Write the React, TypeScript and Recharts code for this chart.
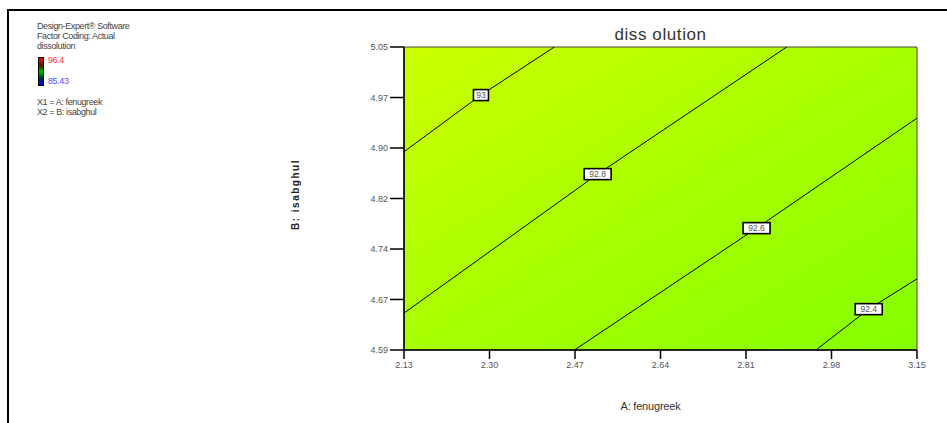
import React from 'react';
import {
  ComposedChart, Line, Scatter, XAxis, YAxis, ReferenceArea
} from 'recharts';

// axis ticks (A: fenugreek, B: isabghul)
const xTicks = [2.13, 2.30, 2.47, 2.64, 2.81, 2.98, 3.15];
const yTicks = [4.59, 4.6667, 4.7433, 4.82, 4.8967, 4.9733, 5.05];

// contour levels of dissolution, with the point where each level is labelled
const contourLevels = ['93', '92.8', '92.6', '92.4'];
const contour93 = [{ x: 2.13, y: 4.891 }, { x: 2.283, y: 4.977 }, { x: 2.429, y: 5.05 }];
const contour928 = [{ x: 2.13, y: 4.646 }, { x: 2.515, y: 4.857 }, { x: 2.891, y: 5.05 }];
const contour926 = [{ x: 2.469, y: 4.59 }, { x: 2.831, y: 4.775 }, { x: 3.15, y: 4.942 }];
const contour924 = [{ x: 2.949, y: 4.59 }, { x: 3.054, y: 4.652 }, { x: 3.15, y: 4.698 }];
const contours = [contour93, contour928, contour926, contour924];

// legend text
const legendLines = ['Design-Expert® Software', 'Factor Coding: Actual', 'dissolution'];
const rangeHigh = '96.4';
const rangeLow = '85.43';
const factorLines = ['X1 = A: fenugreek', 'X2 = B: isabghul'];

const FONT = '"Liberation Sans", Arial, sans-serif';

const labelPoints = contours.map((pts, i) => ({ ...pts[1], level: contourLevels[i] }));

function LevelLabel(props: any) {
  const { cx, cy, payload } = props;
  const w = payload.level.length * 6 + 3;
  const h = 11;
  return (
    <g>
      <rect x={cx - w / 2} y={cy - h / 2} width={w} height={h} fill="#fff" stroke="#000" strokeWidth={1.6} />
      <text x={cx} y={cy + 3} textAnchor="middle" fontSize={8.5} fontFamily={FONT} fill="#555">
        {payload.level}
      </text>
    </g>
  );
}

export default function App() {
  return (
    <div style={{ position: 'absolute', left: 0, top: 0, width: 947, height: 423, background: '#fff', fontFamily: FONT }}>
      {/* frame */}
      <div style={{ position: 'absolute', left: 7, top: 9, width: 940, height: 414, borderLeft: '2px solid #000', borderTop: '2px solid #000' }} />

      {/* legend block */}
      <div style={{ position: 'absolute', left: 37, top: 21, fontSize: 9, lineHeight: '10px', color: '#444', letterSpacing: -0.4 }}>
        {legendLines.map((t) => <div key={t}>{t}</div>)}
      </div>
      <div style={{
        position: 'absolute', left: 38, top: 57, width: 4, height: 27, border: '1px solid #000',
        background: 'linear-gradient(to bottom, #ff0000 0%, #402000 30%, #00c000 50%, #003030 75%, #0000ff 100%)'
      }} />
      <div style={{ position: 'absolute', left: 48, top: 55, fontSize: 9, color: '#ff3030', letterSpacing: -0.4 }}>{rangeHigh}</div>
      <div style={{ position: 'absolute', left: 48, top: 76, fontSize: 9, color: '#5050ff', letterSpacing: -0.4 }}>{rangeLow}</div>
      <div style={{ position: 'absolute', left: 37, top: 97, fontSize: 9, lineHeight: '10px', color: '#444', letterSpacing: -0.4 }}>
        {factorLines.map((t) => <div key={t}>{t}</div>)}
      </div>

      {/* titles */}
      <div style={{ position: 'absolute', left: 404, width: 513, top: 25, textAlign: 'center', fontSize: 17, color: '#333', letterSpacing: 0.6 }}>
        diss olution
      </div>
      <div style={{ position: 'absolute', left: 404, width: 493, top: 400, textAlign: 'center', fontSize: 11, color: '#333', letterSpacing: -0.2 }}>
        A: fenugreek
      </div>
      <div style={{
        position: 'absolute', left: 255, top: 189, width: 80, textAlign: 'center', fontSize: 10, fontWeight: 'bold',
        color: '#222', letterSpacing: 1.5, transform: 'rotate(-90deg)'
      }}>
        B: isabghul
      </div>

      <div style={{ position: 'absolute', left: 0, top: 0 }}>
        <ComposedChart width={947} height={423} margin={{ top: 47, right: 30, left: 0, bottom: 0 }}>
          <defs>
            <linearGradient id="surface" x1="0" y1="0" x2="1" y2="1">
              <stop offset="0%" stopColor="#ccff00" />
              <stop offset="50%" stopColor="#a8ff00" />
              <stop offset="100%" stopColor="#84ff00" />
            </linearGradient>
          </defs>
          <XAxis
            type="number" dataKey="x" domain={[2.13, 3.15]} ticks={xTicks} allowDataOverflow
            height={73} tickSize={9} tickMargin={3}
            tickFormatter={(v: number) => v.toFixed(2)}
            tick={{ fontSize: 9, fill: '#555', fontFamily: FONT }}
            axisLine={{ stroke: '#000', strokeWidth: 1.5 }}
            tickLine={{ stroke: '#000', strokeWidth: 1.5 }}
          />
          <YAxis
            type="number" dataKey="y" domain={[4.59, 5.05]} ticks={yTicks} allowDataOverflow
            width={404} tickSize={14} tickMargin={2}
            tickFormatter={(v: number) => v.toFixed(2)}
            tick={{ fontSize: 9, fill: '#555', fontFamily: FONT }}
            axisLine={{ stroke: '#000', strokeWidth: 1.5 }}
            tickLine={{ stroke: '#000', strokeWidth: 1.5 }}
          />
          <ReferenceArea x1={2.13} x2={3.15} y1={4.59} y2={5.05} fill="url(#surface)" fillOpacity={1} stroke="#444" strokeWidth={1} />
          {contours.map((pts, i) => (
            <Line
              key={contourLevels[i]} data={pts} dataKey="y" type="linear"
              stroke="#000" strokeWidth={1} dot={false} isAnimationActive={false}
            />
          ))}
          <Scatter data={labelPoints} dataKey="y" shape={<LevelLabel />} isAnimationActive={false} />
        </ComposedChart>
      </div>
    </div>
  );
}
